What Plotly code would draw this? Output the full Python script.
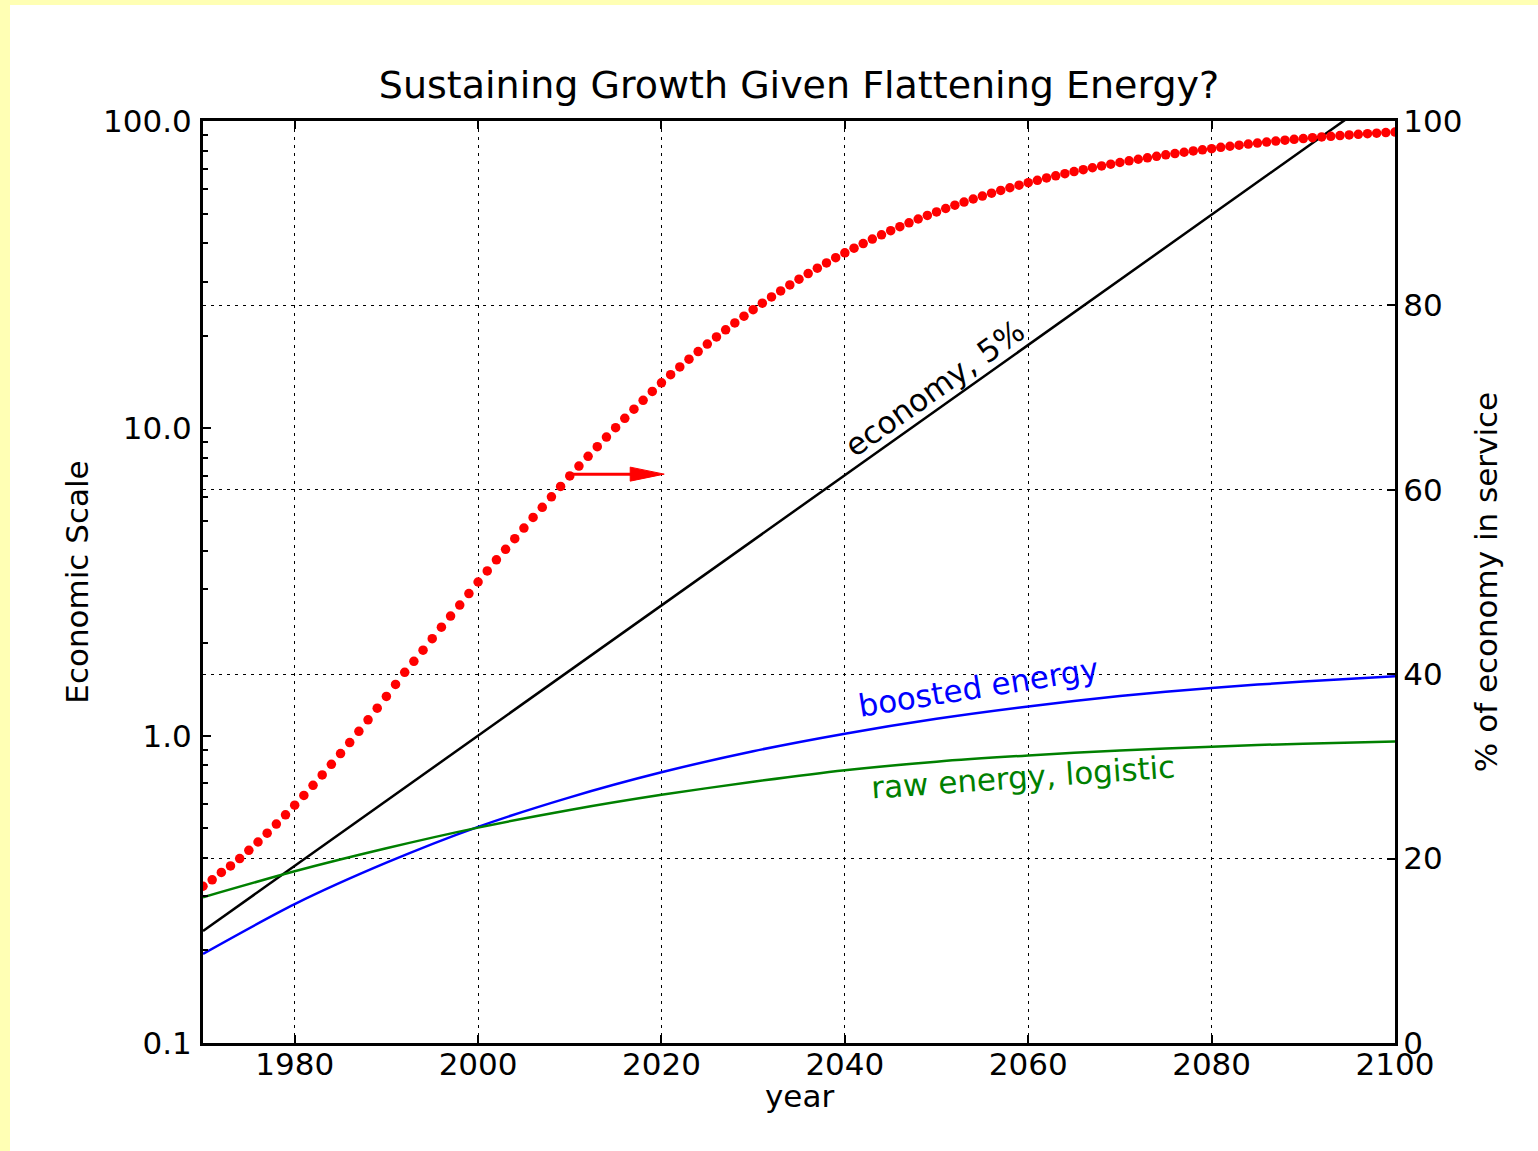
import plotly.graph_objects as go

FONT = "DejaVu Sans"

# --- data -------------------------------------------------------------
# economy growing 5% per year, scaled to 1.0 in 2000 (straight on log axis)
econ_years = [1970, 2100]
econ_vals = [0.2314, 131.5]

# raw energy (logistic) and boosted energy, economic scale
energy_years = [1970, 1980, 1990, 2000, 2010, 2020, 2030, 2040, 2050, 2060, 2070, 2080, 2090, 2100]
raw_energy = [0.298, 0.362, 0.430, 0.502, 0.573, 0.642, 0.708, 0.772, 0.823, 0.862, 0.895, 0.921, 0.942, 0.958]
boosted_energy = [0.195, 0.283, 0.386, 0.505, 0.630, 0.760, 0.890, 1.015, 1.135, 1.245, 1.345, 1.430, 1.500, 1.560]

# share of the economy in services, percent (right axis), one value per year
service_start = 1970
service_pct = [
    17.0, 17.7, 18.5, 19.2, 20.0, 20.9, 21.8, 22.76, 23.74, 24.75,      # 1970s
    25.79, 26.85, 27.95, 29.07, 30.22, 31.39, 32.58, 33.81, 35.05, 36.31,  # 1980s
    37.59, 38.89, 40.2, 41.4, 42.6, 43.85, 45.1, 46.3, 47.5, 48.75,     # 1990s
    50.0, 51.2, 52.4, 53.55, 54.7, 55.85, 57.0, 58.1, 59.24, 60.37,     # 2000s
    61.5, 62.57, 63.63, 64.68, 65.72, 66.74, 67.75, 68.74, 69.71, 70.67,  # 2010s
    71.6, 72.48, 73.33, 74.17, 74.99, 75.8, 76.58, 77.35, 78.1, 78.83,  # 2020s
    79.54, 80.24, 80.92, 81.57, 82.22, 82.84, 83.45, 84.04, 84.61, 85.17,  # 2030s
    85.7, 86.21, 86.71, 87.19, 87.65, 88.1, 88.54, 88.96, 89.37, 89.76,  # 2040s
    90.14, 90.51, 90.87, 91.21, 91.54, 91.86, 92.17, 92.47, 92.76, 93.04,  # 2050s
    93.31, 93.57, 93.82, 94.06, 94.29, 94.51, 94.72, 94.93, 95.13, 95.32,  # 2060s
    95.5, 95.68, 95.85, 96.01, 96.17, 96.33, 96.47, 96.61, 96.75, 96.88,  # 2070s
    97.0, 97.14, 97.26, 97.38, 97.5, 97.61, 97.72, 97.82, 97.92, 98.01,  # 2080s
    98.1, 98.19, 98.27, 98.34, 98.42, 98.49, 98.56, 98.62, 98.68, 98.74,  # 2090s
    98.8,                                                               # 2100
]
service_years = [service_start + i for i in range(len(service_pct))]

x_ticks = [1980, 2000, 2020, 2040, 2060, 2080, 2100]
left_ticks = [0.1, 1.0, 10.0, 100.0]
left_tick_text = ["0.1", "1.0", "10.0", "100.0"]
right_ticks = [0, 20, 40, 60, 80, 100]

# --- figure -----------------------------------------------------------
fig = go.Figure()

fig.add_trace(go.Scatter(x=econ_years, y=econ_vals, mode="lines",
                         line=dict(color="black", width=2.5), showlegend=False))
fig.add_trace(go.Scatter(x=energy_years, y=boosted_energy, mode="lines",
                         line=dict(color="#0000ff", width=2.5, shape="spline", smoothing=0.8),
                         showlegend=False))
fig.add_trace(go.Scatter(x=energy_years, y=raw_energy, mode="lines",
                         line=dict(color="#008000", width=2.5, shape="spline", smoothing=0.8),
                         showlegend=False))
fig.add_trace(go.Scatter(x=service_years, y=service_pct, mode="markers", yaxis="y2",
                         marker=dict(color="#ff0000", size=9.5, line=dict(width=0)),
                         showlegend=False))

minor_vals = [m * 10 ** e for e in (-1, 0, 1) for m in range(2, 10)]

TICK_SIZE = 31
axis_common = dict(
    showline=True, linecolor="black", linewidth=3,
    ticks="inside", tickcolor="black", tickwidth=1.5,
    tickfont=dict(family=FONT, size=TICK_SIZE, color="black"),
    zeroline=False,
)
title_font = dict(family=FONT, size=TICK_SIZE, color="black")

fig.update_layout(
    width=1538, height=1151,
    margin=dict(l=203, r=143, t=121, b=108),
    paper_bgcolor="white", plot_bgcolor="white",
    font=dict(family=FONT, color="black"),
    title=dict(text="Sustaining Growth Given Flattening Energy?",
               font=dict(family=FONT, size=38, color="black"),
               x=0.5, xref="paper", xanchor="center",
               y=1 - 85 / 1151, yref="container", yanchor="middle"),
    xaxis=dict(
        range=[1970, 2100], tickmode="array", tickvals=x_ticks,
        mirror="ticks", ticklen=8, ticklabelstandoff=-8,
        showgrid=True, gridcolor="black", gridwidth=1, griddash="3px,5px",
        **axis_common,
    ),
    yaxis=dict(
        type="log", range=[-1, 2], tickmode="array",
        tickvals=left_ticks, ticktext=left_tick_text, ticklen=8,
        ticklabelstandoff=2, showgrid=False,
        minor=dict(tickmode="array", tickvals=minor_vals, ticks="inside",
                   ticklen=5, tickwidth=1.5, tickcolor="black", showgrid=False),
        title=dict(text="Economic Scale", font=title_font, standoff=6),
        **axis_common,
    ),
    yaxis2=dict(
        overlaying="y", side="right", range=[0, 100], tickmode="array",
        tickvals=right_ticks, ticklen=8, ticklabelstandoff=-1,
        showgrid=True, gridcolor="black", gridwidth=1, griddash="3px,5px",
        title=dict(text="% of economy in service", font=title_font, standoff=14),
        **axis_common,
    ),
)

# x-axis title placed just under the year labels
fig.add_annotation(text="year", xref="paper", yref="paper", x=0.5, y=-53 / 922,
                   xanchor="center", yanchor="middle", showarrow=False, font=title_font)

# pale yellow frame strips along the top and left of the page
fig.add_shape(type="rect", xref="paper", yref="paper",
              x0=-203 / 1192, x1=(1538 - 203) / 1192, y0=(1043 - 5) / 922, y1=1043 / 922,
              fillcolor="#ffffb4", line=dict(width=0), layer="below")
fig.add_shape(type="rect", xref="paper", yref="paper",
              x0=-203 / 1192, x1=(10 - 203) / 1192, y0=(1043 - 1151) / 922, y1=1043 / 922,
              fillcolor="#ffffb4", line=dict(width=0), layer="below")

# red arrow pointing from the service curve toward its (right-hand) axis
fig.add_shape(type="line", xref="x", yref="y2", x0=2009.6, x1=2017.0, y0=61.7, y1=61.7,
              line=dict(color="#ff0000", width=3))
fig.add_shape(type="path", xref="x", yref="y2", xsizemode="pixel", ysizemode="pixel",
              xanchor=2020.3, yanchor=61.7, path="M0,0 L-34,7 L-34,-7 Z",
              fillcolor="#ff0000", line=dict(color="#ff0000", width=1))

# curve labels (y given as log10 of the economic scale)
labels = [
    ("economy, 5%", 2049.8, 1.131, -35.3, "black"),
    ("boosted energy", 2054.6, 0.158, -9.0, "#0000ff"),
    ("raw energy, logistic", 2059.5, -0.136, -4.0, "#008000"),
]
for text, lx, ly, ang, col in labels:
    fig.add_annotation(text=text, x=lx, y=ly, xref="x", yref="y", yanchor="middle",
                       xanchor="center", showarrow=False, textangle=ang,
                       font=dict(family=FONT, size=TICK_SIZE, color=col))

fig.write_html("out.html")
